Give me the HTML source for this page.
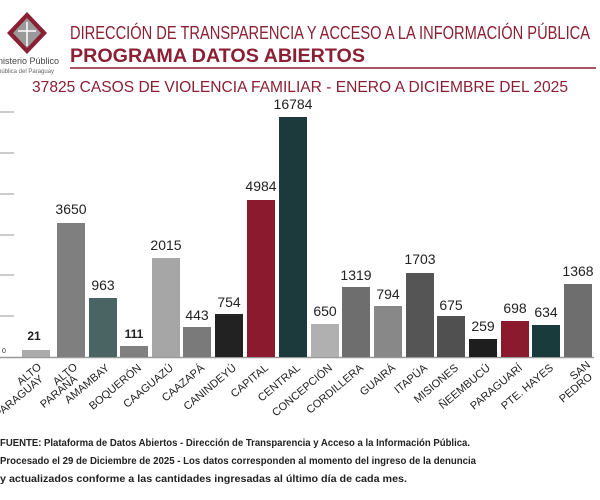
<!DOCTYPE html>
<html><head><meta charset="utf-8"><style>
body{margin:0;background:#fff;}
svg{display:block;font-family:"Liberation Sans",sans-serif;}
</style></head><body>
<svg width="600" height="500" viewBox="0 0 600 500">
<polygon points="27,12 47,33 27,54 7,33" fill="#8b1f33"/>
<polygon points="27,18 41,33 27,48 13,33" fill="#9a9a9a"/>
<line x1="27" y1="22" x2="27" y2="46" stroke="#fff" stroke-width="1.5"/>
<line x1="18" y1="31" x2="36" y2="31" stroke="#fff" stroke-width="1.5"/>
<text x="-2" y="64" font-size="9" fill="#444">nisterio Público</text>
<text x="-2" y="73" font-size="6" fill="#666">pública del Paraguay</text>
<text x="70" y="39" font-size="18" fill="#8b1f33" textLength="520" lengthAdjust="spacingAndGlyphs">DIRECCIÓN DE TRANSPARENCIA Y ACCESO A LA INFORMACIÓN PÚBLICA</text>
<text x="70" y="62" font-size="19" font-weight="bold" fill="#8b1f33" textLength="295" lengthAdjust="spacingAndGlyphs">PROGRAMA  DATOS ABIERTOS</text>
<line x1="70" y1="68" x2="596" y2="68" stroke="#8b1f33" stroke-width="1.5"/>
<text x="32" y="92" font-size="16" fill="#8b1f33" textLength="536" lengthAdjust="spacingAndGlyphs">37825 CASOS DE VIOLENCIA FAMILIAR - ENERO A DICIEMBRE DEL 2025</text>
<g stroke="#999" stroke-width="1">
<line x1="0" y1="112" x2="14" y2="112"/><line x1="0" y1="153" x2="14" y2="153"/>
<line x1="0" y1="194" x2="14" y2="194"/><line x1="0" y1="235" x2="14" y2="235"/>
<line x1="0" y1="275" x2="14" y2="275"/><line x1="0" y1="316" x2="14" y2="316"/>
</g>
<line x1="0" y1="357.5" x2="594" y2="357.5" stroke="#999" stroke-width="1.5"/>
<text x="2" y="353" font-size="7" fill="#333">0</text>
<g>
<rect x="22" y="350" width="28" height="7" fill="#ababab"/>
<rect x="57" y="223" width="28" height="134" fill="#7f7f7f"/>
<rect x="89" y="298" width="28" height="59" fill="#4a6464"/>
<rect x="120" y="346" width="28" height="11" fill="#808080"/>
<rect x="152" y="258" width="28" height="99" fill="#a6a6a6"/>
<rect x="183" y="327" width="28" height="30" fill="#7a7a7a"/>
<rect x="215" y="314" width="28" height="43" fill="#222"/>
<rect x="247" y="200" width="28" height="157" fill="#8b1a2e"/>
<rect x="279" y="117" width="28" height="240" fill="#1c3a3c"/>
<rect x="311" y="324" width="28" height="33" fill="#b0b0b0"/>
<rect x="342" y="287" width="28" height="70" fill="#6e6e6e"/>
<rect x="374" y="306" width="28" height="51" fill="#888"/>
<rect x="406" y="273" width="28" height="84" fill="#555"/>
<rect x="437" y="316" width="28" height="41" fill="#505050"/>
<rect x="469" y="339" width="28" height="18" fill="#1e1e1e"/>
<rect x="501" y="321" width="28" height="36" fill="#8b1a2e"/>
<rect x="532" y="325" width="28" height="32" fill="#1a3b3b"/>
<rect x="564" y="284" width="28" height="73" fill="#6e6e6e"/>
</g>
<g font-size="14" fill="#222" text-anchor="middle">
<text x="34" y="340" font-size="12" font-weight="bold">21</text>
<text x="71" y="214">3650</text>
<text x="103" y="290">963</text>
<text x="134" y="338" font-size="12" font-weight="bold">111</text>
<text x="166" y="250">2015</text>
<text x="197" y="320">443</text>
<text x="229" y="307">754</text>
<text x="261" y="191">4984</text>
<text x="293" y="109">16784</text>
<text x="325" y="316">650</text>
<text x="356" y="280">1319</text>
<text x="388" y="299">794</text>
<text x="420" y="264">1703</text>
<text x="451" y="310">675</text>
<text x="483" y="331">259</text>
<text x="515" y="313">698</text>
<text x="546" y="317">634</text>
<text x="578" y="276">1368</text>
</g>
<g font-size="11" fill="#222" text-anchor="end">
<text transform="translate(42,368) rotate(-40)">ALTO</text>
<text transform="translate(44,380) rotate(-40)">PARAGUAY</text>
<text transform="translate(78,368) rotate(-40)">ALTO</text>
<text transform="translate(78,380) rotate(-40)">PARANÁ</text>
<text transform="translate(110,369) rotate(-40)">AMAMBAY</text>
<text transform="translate(142,369) rotate(-40)">BOQUERÓN</text>
<text transform="translate(174,369) rotate(-40)">CAAGUAZÚ</text>
<text transform="translate(205,369) rotate(-40)">CAAZAPÁ</text>
<text transform="translate(237,369) rotate(-40)">CANINDEYÚ</text>
<text transform="translate(269,369) rotate(-40)">CAPITAL</text>
<text transform="translate(301,369) rotate(-40)">CENTRAL</text>
<text transform="translate(333,369) rotate(-40)">CONCEPCIÓN</text>
<text transform="translate(364,369) rotate(-40)">CORDILLERA</text>
<text transform="translate(396,369) rotate(-40)">GUAIRÁ</text>
<text transform="translate(428,369) rotate(-40)">ITAPÚA</text>
<text transform="translate(459,369) rotate(-40)">MISIONES</text>
<text transform="translate(491,369) rotate(-40)">ÑEEMBUCÚ</text>
<text transform="translate(523,369) rotate(-40)">PARAGUARÍ</text>
<text transform="translate(554,369) rotate(-40)">PTE. HAYES</text>
<text transform="translate(591,366) rotate(-40)">SAN</text>
<text transform="translate(593,378) rotate(-40)">PEDRO</text>
</g>
<g font-size="10" font-weight="bold" fill="#222">
<text x="0" y="446" textLength="470" lengthAdjust="spacingAndGlyphs">FUENTE: Plataforma de Datos Abiertos - Dirección de Transparencia y Acceso a la Información Pública.</text>
<text x="0" y="464" textLength="476" lengthAdjust="spacingAndGlyphs">Procesado el 29 de Diciembre de 2025 - Los datos corresponden al momento del ingreso de la denuncia</text>
<text x="0" y="482" textLength="407" lengthAdjust="spacingAndGlyphs">y actualizados conforme a las cantidades ingresadas al último día de cada mes.</text>
</g>
</svg>
</body></html>
